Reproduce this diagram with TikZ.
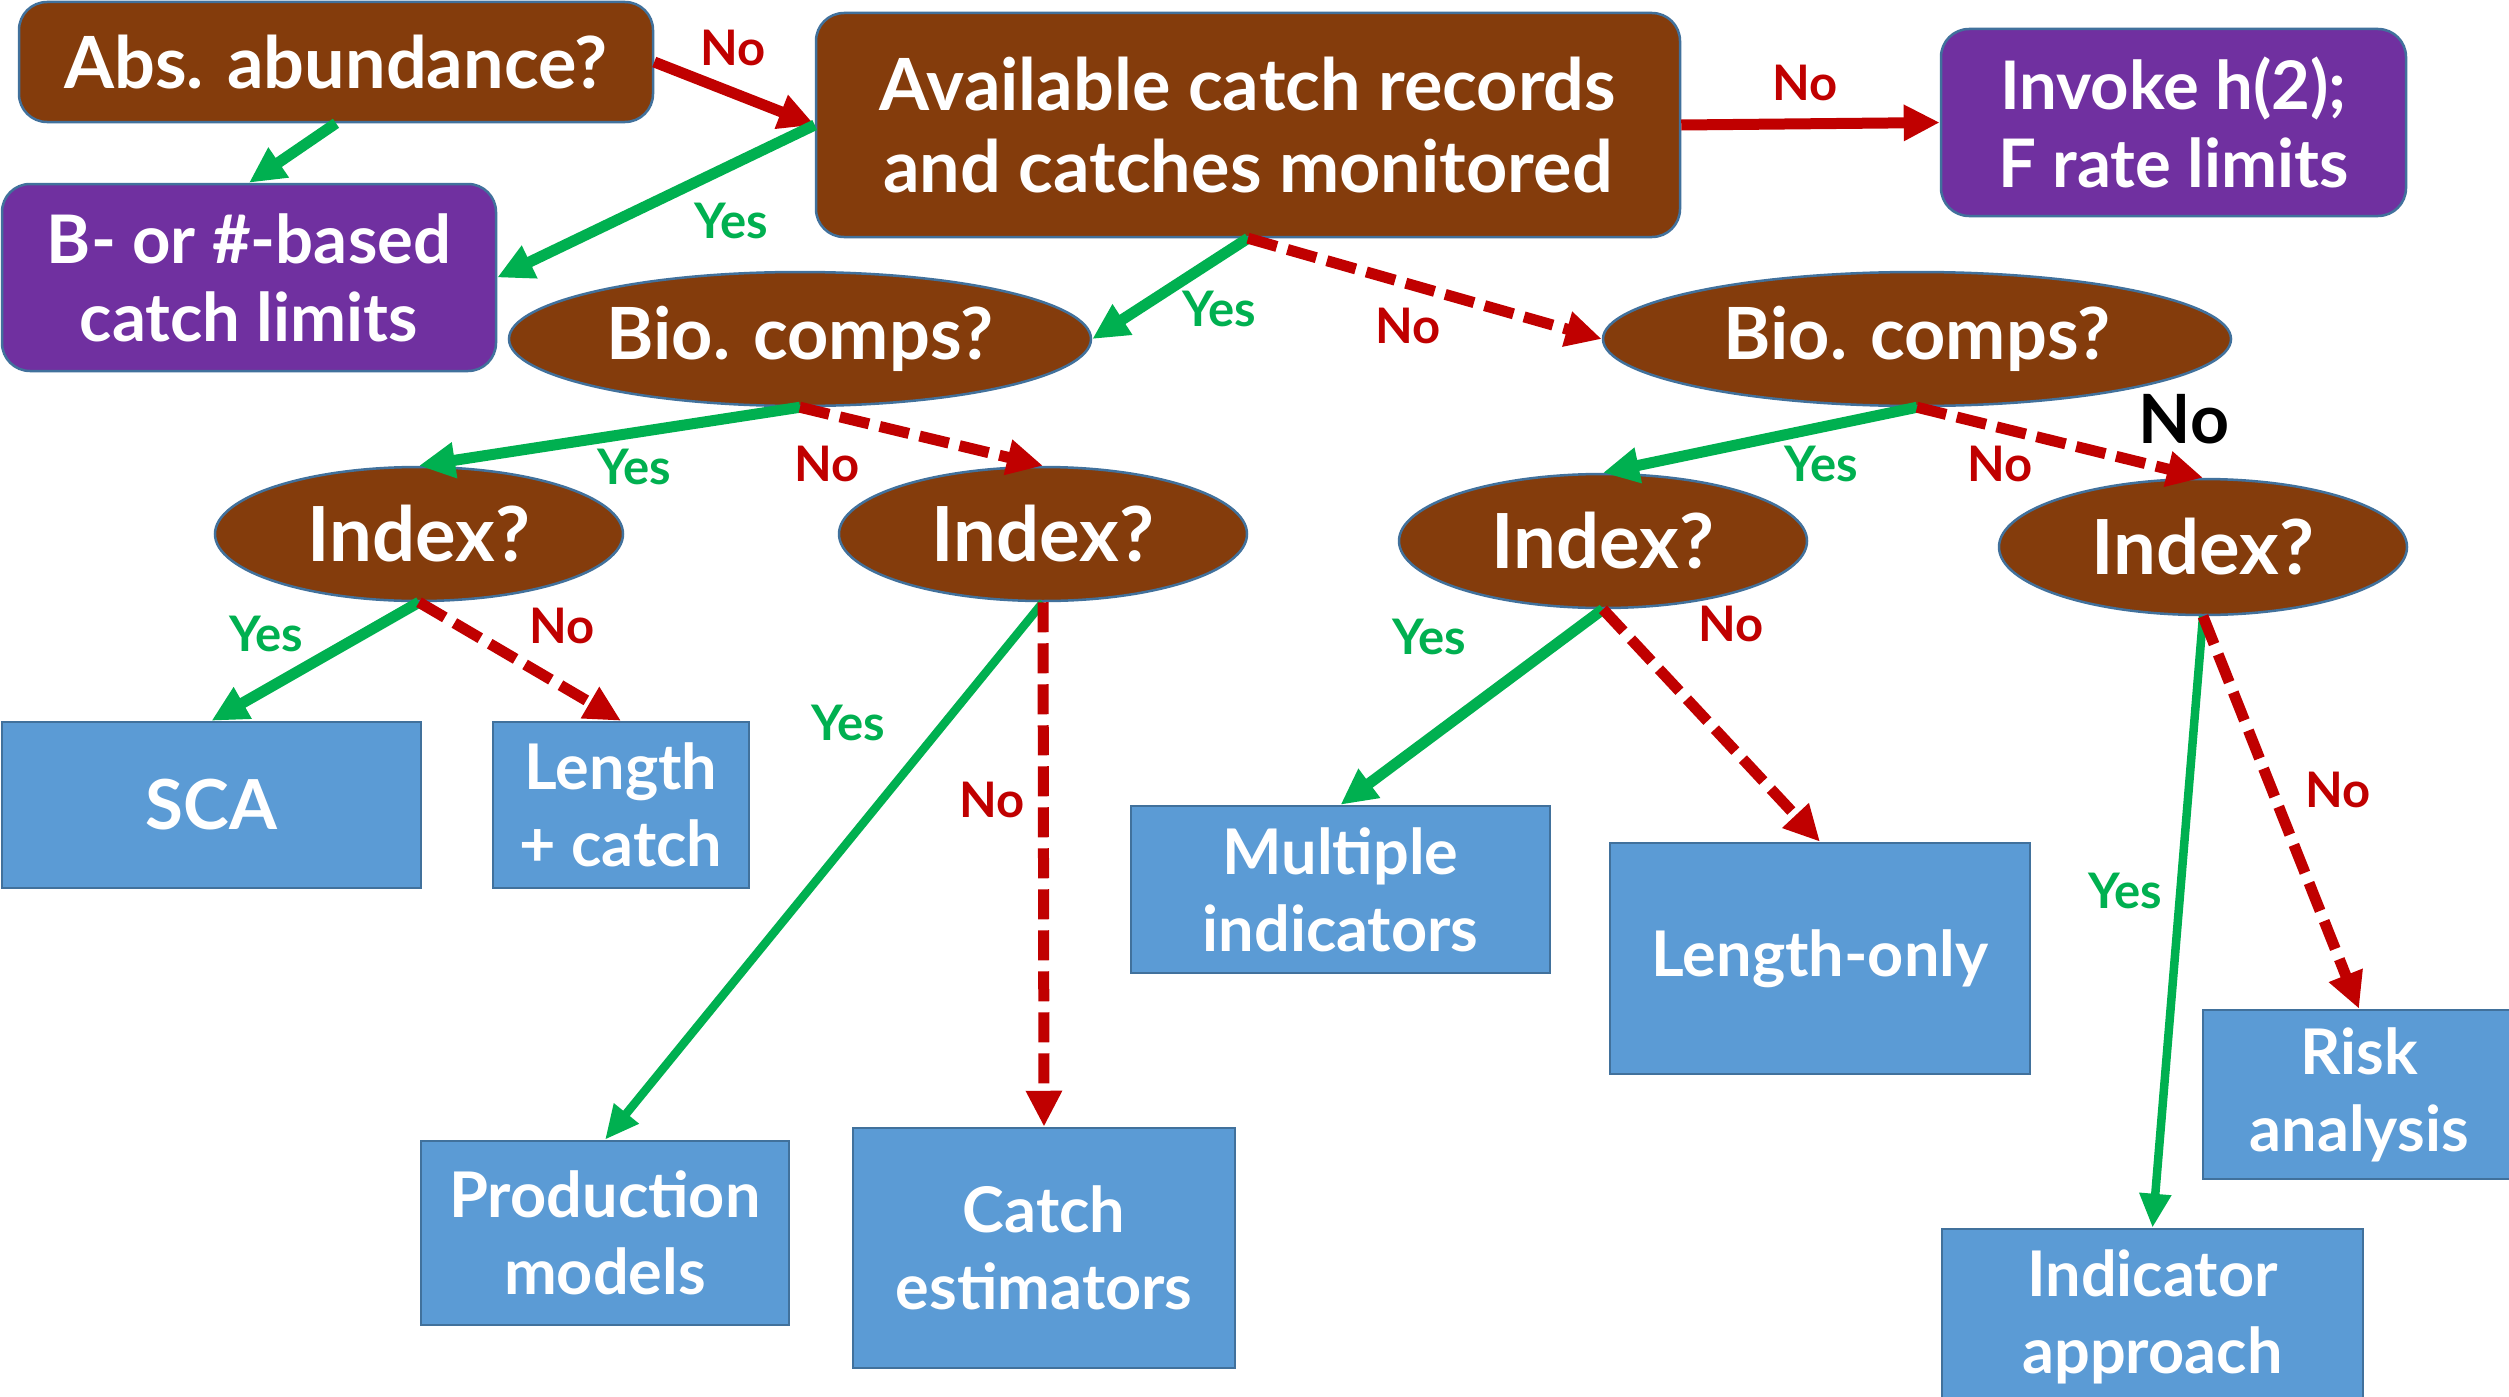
\documentclass[tikz,border=0pt]{standalone}
\usepackage{fontspec}
\setmainfont{Lato}
\usetikzlibrary{shapes.geometric,arrows.meta}
\definecolor{brn}{HTML}{843C0C}
\definecolor{prp}{HTML}{7030A0}
\definecolor{blu}{HTML}{5B9BD5}
\definecolor{edg}{HTML}{41719C}
\definecolor{grn}{HTML}{00B050}
\definecolor{rd}{HTML}{C00000}
\begin{document}
\begin{tikzpicture}[x=1pt,y=-1pt,
 base/.style={draw=edg, line width=2.5pt, text=white, align=center, inner sep=0pt},
 qbox/.style={base, fill=brn, rounded corners=28pt, font=\fontsize{72}{82}\selectfont\bfseries},
 pbox/.style={base, fill=prp, rounded corners=28pt, font=\fontsize{67}{78}\selectfont\bfseries},
 qell/.style={base, fill=brn, ellipse, font=\fontsize{72}{82}\selectfont\bfseries},
 iell/.style={qell, font=\fontsize{76}{82}\selectfont\bfseries},
 ebox/.style={base, fill=blu, font=\fontsize{63}{77}\selectfont\bfseries},
 yesarr/.style={draw=grn, line width=11pt, -{Triangle[length=36pt,width=34pt]}},
 thinyes/.style={draw=grn, line width=8.5pt, -{Triangle[length=34pt,width=30pt]}},
 noarr/.style={draw=rd, line width=11pt, -{Triangle[length=36pt,width=34pt]}},
 nodash/.style={draw=rd, line width=11pt, dash pattern=on 30pt off 11pt, -{Triangle[length=36pt,width=34pt]}},
 lab/.style={font=\fontsize{49}{55}\selectfont\bfseries, inner sep=0pt},
 ylab/.style={lab, text=grn},
 nlab/.style={lab, text=rd}
]
\useasboundingbox (0,0) rectangle (2509,1397);
\fill[white] (0,0) rectangle (2509,1397);

% question boxes
\node[qbox, minimum width=634pt, minimum height=120pt] (abs) at (336,62) {Abs. abundance?};
\node[qbox, minimum width=864pt, minimum height=224pt] (avail) at (1248,125) {Available catch records\\and catches monitored};
\node[pbox, minimum width=465pt, minimum height=187pt] (invoke) at (2173.5,122.5) {Invoke h(2);\\F rate limits};
\node[pbox, minimum width=494pt, minimum height=187pt] (bbased) at (249,277.5) {B- or \#-based\\catch limits};

% ellipses
\node[qell, minimum width=582pt, minimum height=134pt] (bio1) at (800,339) {Bio. comps?};
\node[qell, minimum width=628pt, minimum height=134pt] (bio2) at (1917,339) {Bio. comps?};
\node[iell, minimum width=408pt, minimum height=134pt] (idx1) at (419,534) {Index?};
\node[iell, minimum width=408pt, minimum height=134pt] (idx2) at (1043,534) {Index?};
\node[iell, minimum width=408pt, minimum height=134pt] (idx3) at (1603,541) {Index?};
\node[iell, minimum width=408pt, minimum height=136pt] (idx4) at (2203,547) {Index?};

% end boxes
\node[ebox, minimum width=419pt, minimum height=166pt, font=\fontsize{69}{77}\selectfont\bfseries] (sca) at (211.5,805) {SCA};
\node[ebox, minimum width=256pt, minimum height=166pt] (lc) at (621,805) {Length\\+ catch};
\node[ebox, minimum width=368pt, minimum height=184pt] (prod) at (605,1233) {Production\\models};
\node[ebox, minimum width=382pt, minimum height=240pt] (catch) at (1044,1248) {Catch\\estimators};
\node[ebox, minimum width=419pt, minimum height=167pt] (mult) at (1340.5,889.5) {Multiple\\indicators};
\node[ebox, minimum width=420pt, minimum height=231pt] (lo) at (1820,958.5) {Length-only};
\node[ebox, minimum width=312pt, minimum height=169pt] (risk) at (2359,1094.5) {Risk\\analysis};
\node[ebox, minimum width=421pt, minimum height=176pt] (ind) at (2152.5,1317) {Indicator\\approach};

% connectors
\draw[noarr] (abs.east) -- (avail.west);
\draw[yesarr] (abs.south) -- (bbased.north);
\draw[yesarr] (avail.west) -- (bbased.east);
\draw[noarr] (avail.east) -- (invoke.west);
\draw[yesarr] (avail.south) -- (bio1.east);
\draw[nodash] (avail.south) -- (bio2.west);
\draw[yesarr] (bio1.south) -- (idx1.north);
\draw[nodash] (bio1.south) -- (idx2.north);
\draw[yesarr] (bio2.south) -- (idx3.north);
\draw[nodash] (bio2.south) -- (idx4.north);
\draw[yesarr] (idx1.south) -- (sca.north);
\draw[nodash] (idx1.south) -- (lc.north);
\draw[thinyes] (idx2.south) -- (prod.north);
\draw[nodash] (idx2.south) -- (catch.north);
\draw[yesarr] (idx3.south) -- (mult.north);
\draw[nodash] (idx3.south) -- (lo.north);
\draw[thinyes] (idx4.south) -- (ind.north);
\draw[nodash] (idx4.south) -- (risk.north);

% labels
\node[nlab] (l1) at (733,48) {No};
\node[ylab] (l2) at (731,221) {Yes};
\node[nlab] (l3) at (1805,83) {No};
\node[ylab] (l4) at (1219,309) {Yes};
\node[nlab] (l5) at (1408,326) {No};
\node[ylab] (l6) at (634,467) {Yes};
\node[nlab] (l7) at (827,464) {No};
\node[ylab] (l8) at (1821,464) {Yes};
\node[nlab] (l9) at (2000,464) {No};
\node[font=\fontsize{68}{72}\selectfont\bfseries, inner sep=0pt] (l10) at (2184,419) {No};
\node[ylab] (l11) at (266,634) {Yes};
\node[nlab] (l12) at (562,626) {No};
\node[ylab] (l13) at (848,723) {Yes};
\node[nlab] (l14) at (992,800) {No};
\node[ylab] (l15) at (1429,637) {Yes};
\node[nlab] (l16) at (1731,624) {No};
\node[ylab] (l17) at (2125,891) {Yes};
\node[nlab] (l18) at (2338,790) {No};
\end{tikzpicture}
\end{document}
